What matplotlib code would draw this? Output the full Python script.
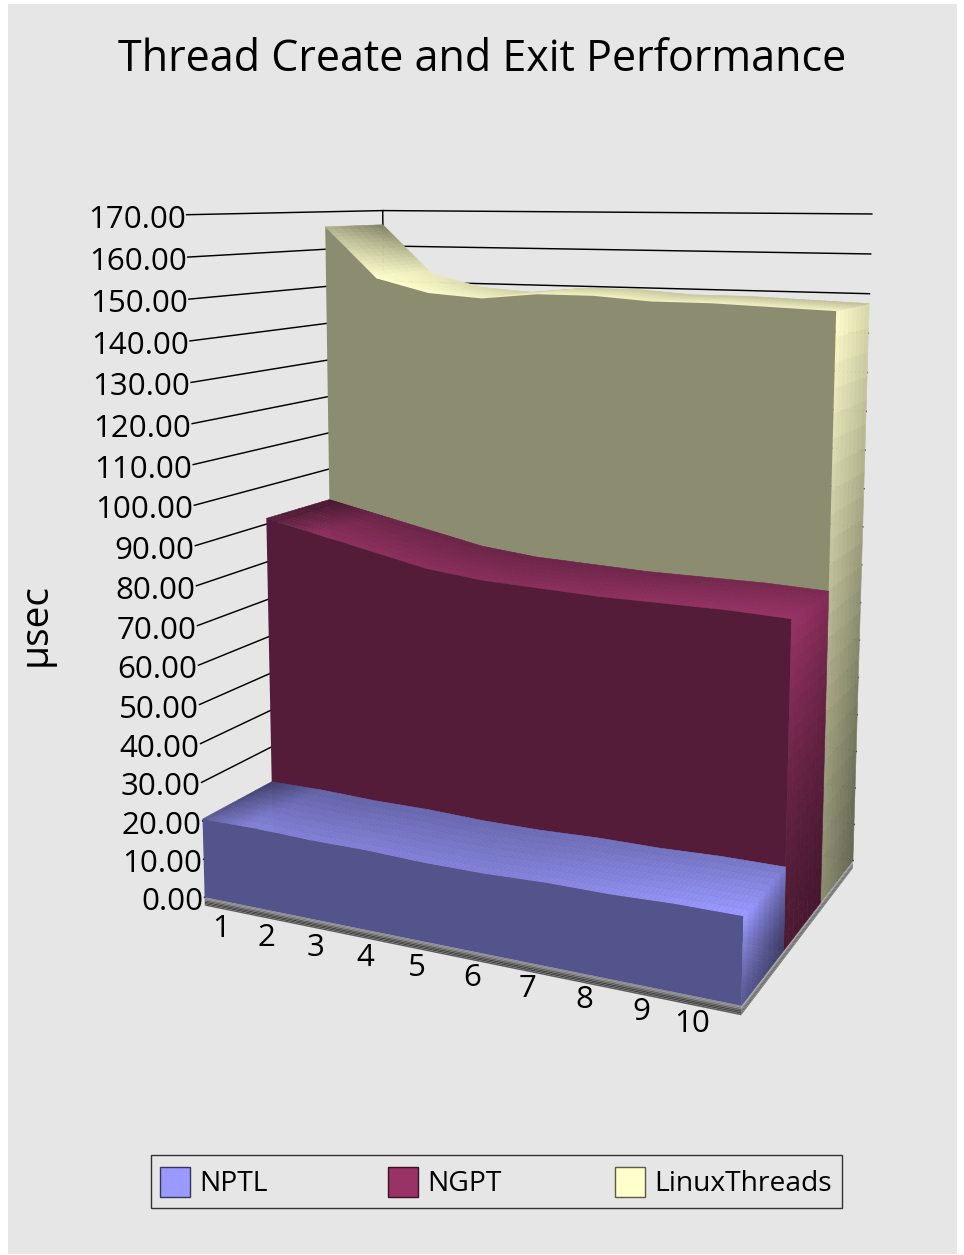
import numpy as np
import matplotlib
matplotlib.use("Agg")
import matplotlib.pyplot as plt
from matplotlib.collections import PolyCollection
from matplotlib.colors import to_rgb
from matplotlib.patches import Polygon, Rectangle

plt.rcParams["font.family"] = ["Open Sans", "DejaVu Sans"]

TITLE = "Thread Create and Exit Performance"
YLABEL = "\u00b5sec"
CATEGORIES = ["1", "2", "3", "4", "5", "6", "7", "8", "9", "10"]
Y_TICKS = list(range(0, 180, 10))
Y_MAX = 170.0

NPTL = [20.5, 20.5, 20.0, 20.0, 19.5, 19.5, 20.0, 20.0, 20.5, 20.5]
NGPT = [91.5, 88.5, 85.5, 82.5, 81.0, 80.5, 80.0, 80.0, 80.0, 79.5]
LINUX_THREADS = [166.0, 152.5, 149.0, 148.0, 149.5, 149.5, 148.5, 148.5, 148.0, 147.5]

# (x 0-1, value, depth 0-1) -> screen pixel, used to solve the 3d camera
CAMERA_ANCHORS = [
    ((0, 0, 0), (205, 897)),
    ((1, 0, 0), (743, 1005)),
    ((1, 0, 1), (852, 862)),
    ((0, 170, 0), (186, 216)),
    ((0, 170, 1), (384, 210)),
    ((1, 170, 1), (872, 214)),
    ((1, 80, 1), (861, 564)),
    ((0, 100, 0), (193, 505)),
]


def solve_camera(anchors):
    rows = []
    for (x, v, z), (u, w) in anchors:
        p = [x, v / Y_MAX, z, 1.0]
        rows.append(p + [0, 0, 0, 0] + [-u * a for a in p])
        rows.append([0, 0, 0, 0] + p + [-w * a for a in p])
    return np.linalg.svd(np.array(rows, float))[2][-1].reshape(3, 4)


CAM = solve_camera(CAMERA_ANCHORS)


def proj(x, v, z):
    x, v, z = np.broadcast_arrays(x, v, z)
    pts = np.stack([x, v / Y_MAX, z, np.ones_like(x, dtype=float)], axis=-1)
    h = pts @ CAM.T
    return h[..., :2] / h[..., 2:3]


def shaded_grid(ax, corners, shades, base, zorder):
    """corners: 2d array of 3d points (n, m, 3), shades: cell intensity (n-1, m-1)"""
    xy = proj(corners[..., 0], corners[..., 1], corners[..., 2])
    polys = []
    cols = []
    for i in range(xy.shape[0] - 1):
        for j in range(xy.shape[1] - 1):
            polys.append([xy[i, j], xy[i + 1, j], xy[i + 1, j + 1], xy[i, j + 1]])
            cols.append(np.clip(np.array(base) * shades[i, j], 0, 1))
    ax.add_collection(PolyCollection(polys, facecolors=cols, edgecolors=cols,
                                     linewidths=0.4, zorder=zorder))


def draw_band(ax, values, z0, z1, color, front_shade, back_shade, cap_shade, zorder):
    base = to_rgb(color)
    xs = np.linspace(0, 1, len(values))
    values = np.asarray(values, float)

    # right end cap, light falls off quickly from the top edge
    ft, bt, fb, bb = cap_shade
    ss = np.linspace(0, 1, 9)
    rs = np.linspace(0, 1, 25)
    s, r = np.meshgrid(ss, rs, indexing="ij")
    cap = np.stack([np.ones_like(s), r * values[-1], z0 + (z1 - z0) * s], axis=-1)
    sc, rc = (s[:-1, :-1] + s[1:, 1:]) / 2, (r[:-1, :-1] + r[1:, 1:]) / 2
    rc = rc ** 1.4
    cap_i = (ft * (1 - sc) + bt * sc) * rc + (fb * (1 - sc) + bb * sc) * (1 - rc)
    shaded_grid(ax, cap, cap_i, base, zorder)

    # top surface, broken into small cells so the shade can vary
    t = np.linspace(0, 1, 136)
    s = np.linspace(0, 1, 9)
    tt, ss2 = np.meshgrid(t, s, indexing="ij")
    vv = np.interp(tt, xs, values)
    top = np.stack([tt, vv, z0 + (z1 - z0) * ss2], axis=-1)
    tc, sc = (tt[:-1, :-1] + tt[1:, 1:]) / 2, (ss2[:-1, :-1] + ss2[1:, 1:]) / 2
    fi = np.interp(tc, *zip(*front_shade))
    bi = np.interp(tc, *zip(*back_shade))
    shaded_grid(ax, top, fi * (1 - sc) + bi * sc, base, zorder + 1)

    # flat front face
    line = proj(xs, values, z0)
    foot = proj(xs[::-1], np.zeros_like(xs), z0)
    ax.add_patch(Polygon(np.vstack([line, foot]), closed=True, zorder=zorder + 2,
                         facecolor=np.array(base) * 0.55, edgecolor="none"))


def draw_floor(ax):
    depth = -2.2
    bands = np.array([0.55, 0.50, 0.38, 0.28, 0.28, 0.36])
    vs = np.linspace(0, depth, len(bands) + 1)
    for a, b, g in zip(vs[:-1], vs[1:], bands):
        front = [proj(0, a, 0), proj(1, a, 0), proj(1, b, 0), proj(0, b, 0)]
        side = [proj(1, a, 0), proj(1, a, 1), proj(1, b, 1), proj(1, b, 0)]
        ax.add_patch(Polygon(front, closed=True, facecolor=(g, g, g), edgecolor="none", zorder=1))
        ax.add_patch(Polygon(side, closed=True, facecolor=(g + 0.1, g + 0.1, g + 0.1),
                             edgecolor="none", zorder=1))


fig = plt.figure(figsize=(9.64, 12.55), dpi=100, facecolor="white")
ax = fig.add_axes([0, 0, 1, 1])
ax.set_xlim(0, 964)
ax.set_ylim(1255, 0)
ax.axis("off")

ax.add_patch(Rectangle((8, 4), 949, 1250, facecolor="#E6E6E6", edgecolor="none", zorder=0))

ax.text(482, 60, TITLE, fontsize=31, ha="center", va="center")
ax.text(36, 625, YLABEL, fontsize=28, rotation=90, ha="center", va="center")

# wall grid lines and value labels
for v in Y_TICKS:
    a, b, c = proj(0, v, 0), proj(0, v, 1), proj(1, v, 1)
    ax.plot([a[0], b[0], c[0]], [a[1], b[1], c[1]], color="black", lw=1.05, zorder=1)
    ax.text(a[0] - 1, a[1] + 5, f"{v:.2f}", fontsize=22.5, ha="right", va="center", zorder=5)
corner_top, corner_foot = proj(0, Y_MAX, 1), proj(0, 0, 1)
ax.plot([corner_top[0], corner_foot[0]], [corner_top[1], corner_foot[1]], color="black", lw=1.05, zorder=1)

draw_floor(ax)

draw_band(ax, LINUX_THREADS, 2 / 3, 1.0, "#FFFFCC",
          [(0, 0.70), (0.11, 1.0), (0.22, 1.0), (0.33, 0.95), (1, 0.95)],
          [(0, 0.50), (0.11, 0.92), (0.22, 0.85), (0.33, 0.82), (1, 0.75)],
          (1.0, 0.85, 0.55, 0.40), 10)
draw_band(ax, NGPT, 1 / 3, 2 / 3, "#993366",
          [(0, 0.55), (0.11, 0.92), (0.5, 0.90), (1, 1.0)],
          [(0, 0.45), (0.11, 0.70), (0.5, 0.70), (1, 0.80)],
          (1.0, 0.85, 0.50, 0.45), 20)
draw_band(ax, NPTL, 0.0, 1 / 3, "#9999FF",
          [(0, 0.62), (0.09, 0.85), (0.6, 0.86), (1, 1.02)],
          [(0, 0.42), (0.11, 0.66), (0.6, 0.72), (1, 0.80)],
          (1.05, 0.80, 0.58, 0.40), 30)

# category labels sit slightly inset from the data positions
label_x = np.linspace(0.034, 0.919, len(CATEGORIES))
label_nudge = [1, -1, 0, 0, 1, 4, 6, 8, 8, 0]
for t, dx, lab in zip(label_x, label_nudge, CATEGORIES):
    p = proj(t, 0, 0)
    ax.text(p[0] + dx, p[1] + 28, lab, fontsize=22.5, ha="center", va="center", zorder=5)

# legend box
ax.add_patch(Rectangle((151, 1155), 691, 53, facecolor="none", edgecolor="#333333", lw=1.0, zorder=5))
for x0, name, col in [(160, "NPTL", "#9999FF"), (388, "NGPT", "#993366"), (615, "LinuxThreads", "#FFFFCC")]:
    ax.add_patch(Rectangle((x0, 1167), 30, 30, facecolor=col,
                           edgecolor=np.array(to_rgb(col)) * 0.35, lw=1.0, zorder=5))
    ax.text(x0 + 39, 1184, name, fontsize=20.3, ha="left", va="center", zorder=5)

fig.savefig("out.png", dpi=100)
